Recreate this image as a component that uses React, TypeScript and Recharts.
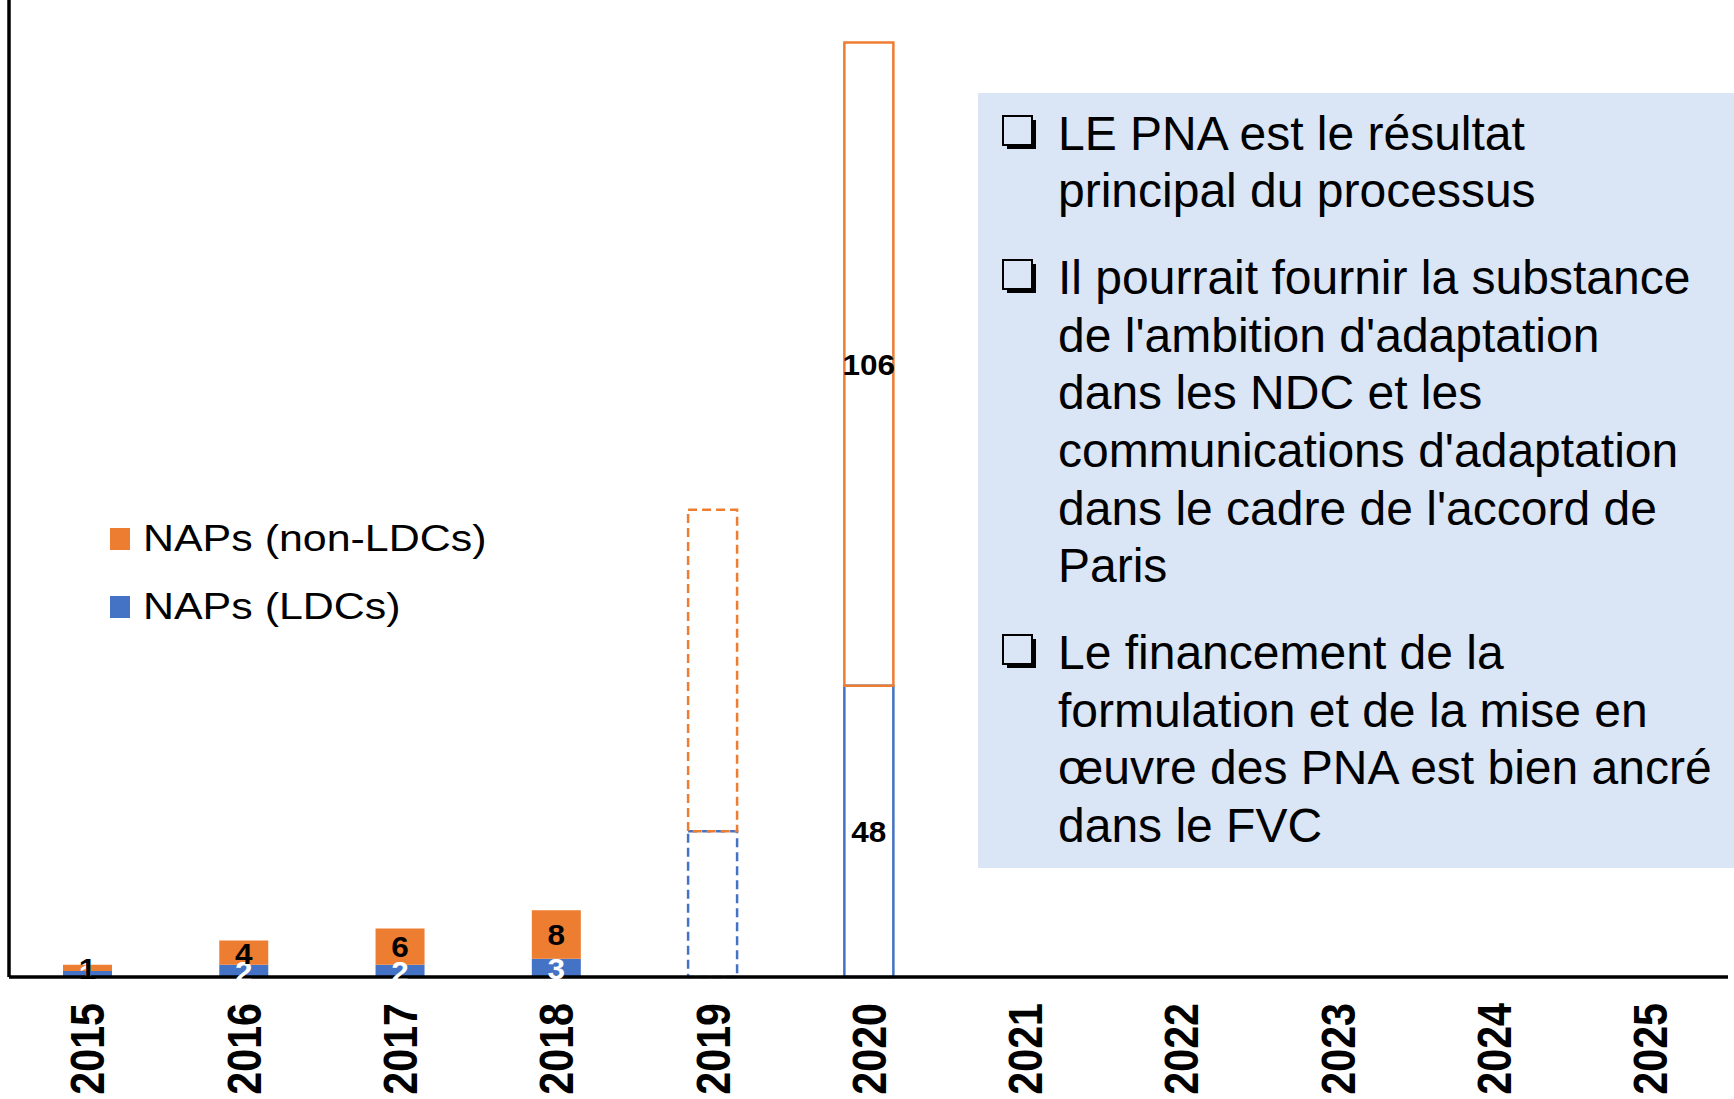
import React from 'react'
import { BarChart, Bar, XAxis, YAxis, Legend, Cell, LabelList } from 'recharts'

const years = ['2015', '2016', '2017', '2018', '2019', '2020', '2021', '2022', '2023', '2024', '2025']
const napsLdc = [1, 2, 2, 3, 24, 48, null, null, null, null, null]
const napsNonLdc = [1, 4, 6, 8, 53, 106, null, null, null, null, null]
// submitted = filled bar, expected = dashed outline, target = solid outline
const barStatus = ['submitted', 'submitted', 'submitted', 'submitted', 'expected', 'target', '', '', '', '', '']

const points = [
  ['LE PNA est le résultat', 'principal du processus'],
  [
    'Il pourrait fournir la substance',
    "de l'ambition d'adaptation",
    'dans les NDC et les',
    "communications d'adaptation",
    "dans le cadre de l'accord de",
    'Paris',
  ],
  ['Le financement de la', 'formulation et de la mise en', 'œuvre des PNA est bien ancré', 'dans le FVC'],
]

const data = years.map((year, i) => ({
  year,
  ldc: napsLdc[i],
  nonLdc: napsNonLdc[i],
  status: barStatus[i],
}))

const ORANGE = '#ED7D31'
const BLUE = '#4472C4'
const FONT = '"Liberation Sans", Arial, Helvetica, sans-serif'

const YearTick = (props: any) => {
  const { x, y, payload } = props
  return (
    <g transform={`translate(${x},${y + 26})`}>
      <text
        transform="rotate(-90) scale(1.03,1.2)"
        textAnchor="end"
        dy="0.36em"
        fontSize={40}
        fontWeight="bold"
        fontFamily={FONT}
        fill="#000"
      >
        {payload.value}
      </text>
    </g>
  )
}

const makeLabel = (filledColor: string) => (props: any) => {
  const vb = props.viewBox ?? props
  const { x, y, width, height } = vb
  const { value, index } = props
  const status = barStatus[index]
  if (value == null || status === 'expected' || status === '') return null
  const color = status === 'submitted' ? filledColor : '#000'
  const cx = x + width / 2
  const cy = y + height / 2
  return (
    <text
      transform={`translate(${cx},${cy}) scale(1.05,1)`}
      textAnchor="middle"
      dy="0.36em"
      fontSize={30}
      fontWeight="bold"
      fontFamily={FONT}
      fill={color}
    >
      {value}
    </text>
  )
}

const cellStyle = (status: string, color: string) => {
  if (status === 'expected') {
    return { fill: 'none', stroke: color, strokeWidth: 2.5, strokeDasharray: '9 5' }
  }
  if (status === 'target') {
    return { fill: 'none', stroke: color, strokeWidth: 2.5 }
  }
  return { fill: color, stroke: 'none' }
}

const LegendContent = (props: any) => {
  const items = [...(props.payload || [])].reverse()
  return (
    <div style={{ fontFamily: FONT }}>
      {items.map((item: any) => (
        <div key={item.value} style={{ display: 'flex', alignItems: 'center', height: 68 }}>
          <div style={{ width: 20, height: 22, background: item.color, marginRight: 13 }} />
          <span
            style={{
              fontSize: 37,
              lineHeight: '68px',
              color: '#000',
              display: 'inline-block',
              transform: 'scaleX(1.16)',
              transformOrigin: 'left center',
              whiteSpace: 'nowrap',
            }}
          >
            {item.value}
          </span>
        </div>
      ))}
    </div>
  )
}

const Bullet = ({ top }: { top: number }) => (
  <svg width={36} height={36} style={{ position: 'absolute', left: 24, top }}>
    <rect x={5} y={5} width={29} height={29} fill="#000" />
    <rect x={1} y={1} width={29} height={29} fill="#DAE5F5" stroke="#000" strokeWidth={2} />
  </svg>
)

const LINE = 57.7
const GAP = 28.8

function TextBox() {
  let top = 11.6
  const blocks = points.map((lines, i) => {
    const blockTop = top
    top += lines.length * LINE + GAP
    return (
      <div key={i}>
        <Bullet top={blockTop + 10.5} />
        <div
          style={{
            position: 'absolute',
            left: 80,
            top: blockTop,
            fontSize: 48,
            lineHeight: `${LINE}px`,
            color: '#000',
            whiteSpace: 'nowrap',
          }}
        >
          {lines.map((l) => (
            <div key={l}>{l}</div>
          ))}
        </div>
      </div>
    )
  })
  return (
    <div
      style={{
        position: 'absolute',
        left: 978,
        top: 93,
        width: 756,
        height: 775,
        background: '#DAE5F5',
        fontFamily: FONT,
      }}
    >
      {blocks}
    </div>
  )
}

export default function App() {
  return (
    <div
      style={{
        position: 'absolute',
        left: 0,
        top: 0,
        width: 1734,
        height: 1099,
        background: '#fff',
        fontFamily: FONT,
        overflow: 'hidden',
      }}
    >
      <BarChart
        width={1734}
        height={1099}
        data={data}
        margin={{ top: 0, right: 6, bottom: 0, left: 6 }}
        barSize={49}
      >
        <XAxis
          dataKey="year"
          interval={0}
          tickLine={false}
          tickSize={0}
          tickMargin={0}
          height={122}
          axisLine={{ stroke: '#000', strokeWidth: 3.5 }}
          tick={<YearTick />}
        />
        <YAxis
          domain={[0, 161]}
          tick={false}
          tickLine={false}
          width={3}
          axisLine={{ stroke: '#000', strokeWidth: 3.5 }}
        />
        <Legend
          layout="vertical"
          align="center"
          verticalAlign="middle"
          wrapperStyle={{ left: 110, top: 505, width: 'auto' }}
          content={<LegendContent />}
        />
        <Bar dataKey="ldc" name="NAPs (LDCs)" stackId="a" fill={BLUE} isAnimationActive={false}>
          {data.map((d, i) => (
            <Cell key={`ldc-${i}`} {...cellStyle(d.status, BLUE)} />
          ))}
          <LabelList dataKey="ldc" content={makeLabel('#fff')} />
        </Bar>
        <Bar dataKey="nonLdc" name="NAPs (non-LDCs)" stackId="a" fill={ORANGE} isAnimationActive={false}>
          {data.map((d, i) => (
            <Cell key={`non-${i}`} {...cellStyle(d.status, ORANGE)} />
          ))}
          <LabelList dataKey="nonLdc" content={makeLabel('#000')} />
        </Bar>
      </BarChart>
      <TextBox />
    </div>
  )
}
